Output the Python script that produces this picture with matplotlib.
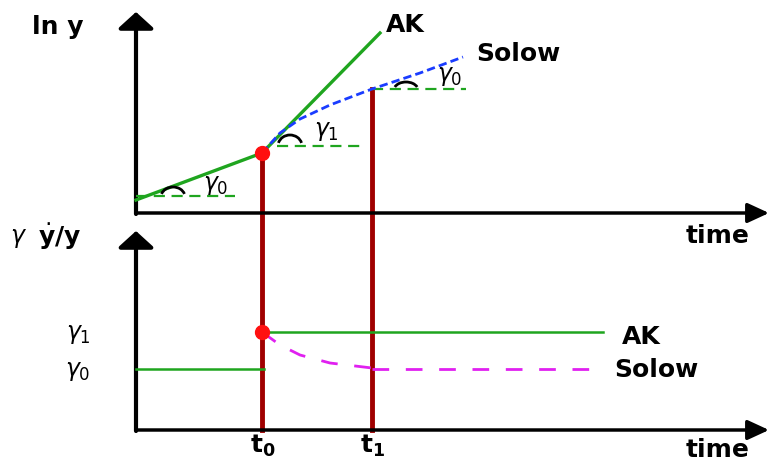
import matplotlib
matplotlib.use("Agg")
import matplotlib.pyplot as plt
from matplotlib.patches import Arc

# Panel superior: ln y
pre_x = [136, 262]
pre_y = [200, 153]
ak_x = [262, 380]
ak_y = [153, 33]
solow_x = [262, 280, 300, 330, 372, 420, 463]
solow_y = [153, 133, 119, 105, 89, 73, 57]
t0_x = 262
t1_x = 372

# Panel inferior: tasa de crecimiento
g0_x = [136, 264]
g0_y = [369, 369]
g1_x = [262, 603]
g1_y = [332, 332]
solow_g_x = [262, 280, 300, 330, 372]
solow_g_y = [332, 345, 355, 363, 368]
solow_ss_x = [372, 605]
solow_ss_y = [369, 369]

green = "#1fa51f"
red_line = "#a00000"

fig = plt.figure(figsize=(7.70, 4.61), dpi=100)
ax = fig.add_axes([0, 0, 1, 1])
ax.set_xlim(0, 770)
ax.set_ylim(461, 0)
ax.axis("off")

# Ejes con flechas
v_arrow = dict(arrowstyle="-|>,head_length=0.5,head_width=0.55", mutation_scale=20,
               lw=3, color="black", shrinkA=0, shrinkB=0)
h_arrow = dict(arrowstyle="-|>,head_length=0.65,head_width=0.3", mutation_scale=20,
               lw=2.5, color="black", shrinkA=0, shrinkB=0)
ax.annotate("", xy=(136, 12), xytext=(136, 214), arrowprops=v_arrow)
ax.annotate("", xy=(136, 231), xytext=(136, 431), arrowprops=v_arrow)
ax.annotate("", xy=(769, 213), xytext=(136, 213), arrowprops=h_arrow,
            annotation_clip=False)
ax.annotate("", xy=(769, 430), xytext=(136, 430), arrowprops=h_arrow,
            annotation_clip=False)

# Lineas verticales t0, t1
ax.plot([t0_x, t0_x], [pre_y[1], 430], color=red_line, lw=3.5, zorder=2)
ax.plot([t1_x, t1_x], [solow_y[4], 430], color=red_line, lw=3.5, zorder=2)

# Panel superior
ax.plot(pre_x, pre_y, color=green, lw=2.4, zorder=3)
ax.plot(ak_x, ak_y, color=green, lw=2.4, zorder=3)
ax.plot(solow_x, solow_y, color="#1a3cff", lw=2, ls=(0, (3, 1.5)), zorder=4)

# Referencias horizontales para los angulos
dash = dict(color=green, lw=1.6, ls=(0, (5, 3)), zorder=3)
ax.plot([136, 235], [196, 196], **dash)
ax.plot([277, 360], [146, 146], **dash)
ax.plot([372, 466], [89, 89], **dash)

# Marcas de los angulos
ax.add_patch(Arc((173, 197), 24, 20, theta1=195, theta2=345, lw=2, color="black", zorder=5))
ax.add_patch(Arc((290, 146), 24, 22, theta1=195, theta2=345, lw=2, color="black", zorder=5))
ax.add_patch(Arc((406, 90), 24, 16, theta1=195, theta2=345, lw=2, color="black", zorder=5))

ax.plot(t0_x, pre_y[1], "o", color="#ff1010", ms=10, zorder=6)

# Panel inferior
ax.plot(g0_x, g0_y, color=green, lw=1.8, zorder=3)
ax.plot(g1_x, g1_y, color=green, lw=1.8, zorder=3)
ax.plot(solow_g_x, solow_g_y, color="#e020f0", lw=2, ls=(0, (6, 6)), zorder=3)
ax.plot(solow_ss_x, solow_ss_y, color="#e020f0", lw=2, ls=(0, (6, 6)), zorder=3)
ax.plot(t0_x, g1_y[0], "o", color="#ff1010", ms=10, zorder=5)

# Textos
bold = dict(fontsize=18, fontweight="bold", family="DejaVu Sans", color="black")
greek = dict(fontsize=17, color="black")
ax.text(32, 27, "ln y", ha="left", va="center", **bold)
ax.text(386, 25, "AK", ha="left", va="center", **bold)
ax.text(476, 54, "Solow", ha="left", va="center", **bold)
ax.text(750, 243, "time", ha="right", va="baseline", **bold)
ax.text(750, 457, "time", ha="right", va="baseline", **bold)
ax.text(263, 446, r"t$_\mathbf{0}$", ha="center", va="center", **bold)
ax.text(373, 446, r"t$_\mathbf{1}$", ha="center", va="center", **bold)
ax.text(622, 337, "AK", ha="left", va="center", **bold)
ax.text(614, 370, "Solow", ha="left", va="center", **bold)
ax.text(38, 237, r"$\dot{\mathbf{y}}$/y", ha="left", va="center", **bold)
ax.text(10, 238, r"$\gamma$", ha="left", va="center", **greek)

ax.text(216, 185, r"$\gamma_0$", ha="center", va="center", **greek)
ax.text(326, 131, r"$\gamma_1$", ha="center", va="center", **greek)
ax.text(450, 76, r"$\gamma_0$", ha="center", va="center", **greek)
ax.text(78, 334, r"$\gamma_1$", ha="center", va="center", **greek)
ax.text(78, 371, r"$\gamma_0$", ha="center", va="center", **greek)

fig.savefig("out.png", dpi=100, facecolor="white")
